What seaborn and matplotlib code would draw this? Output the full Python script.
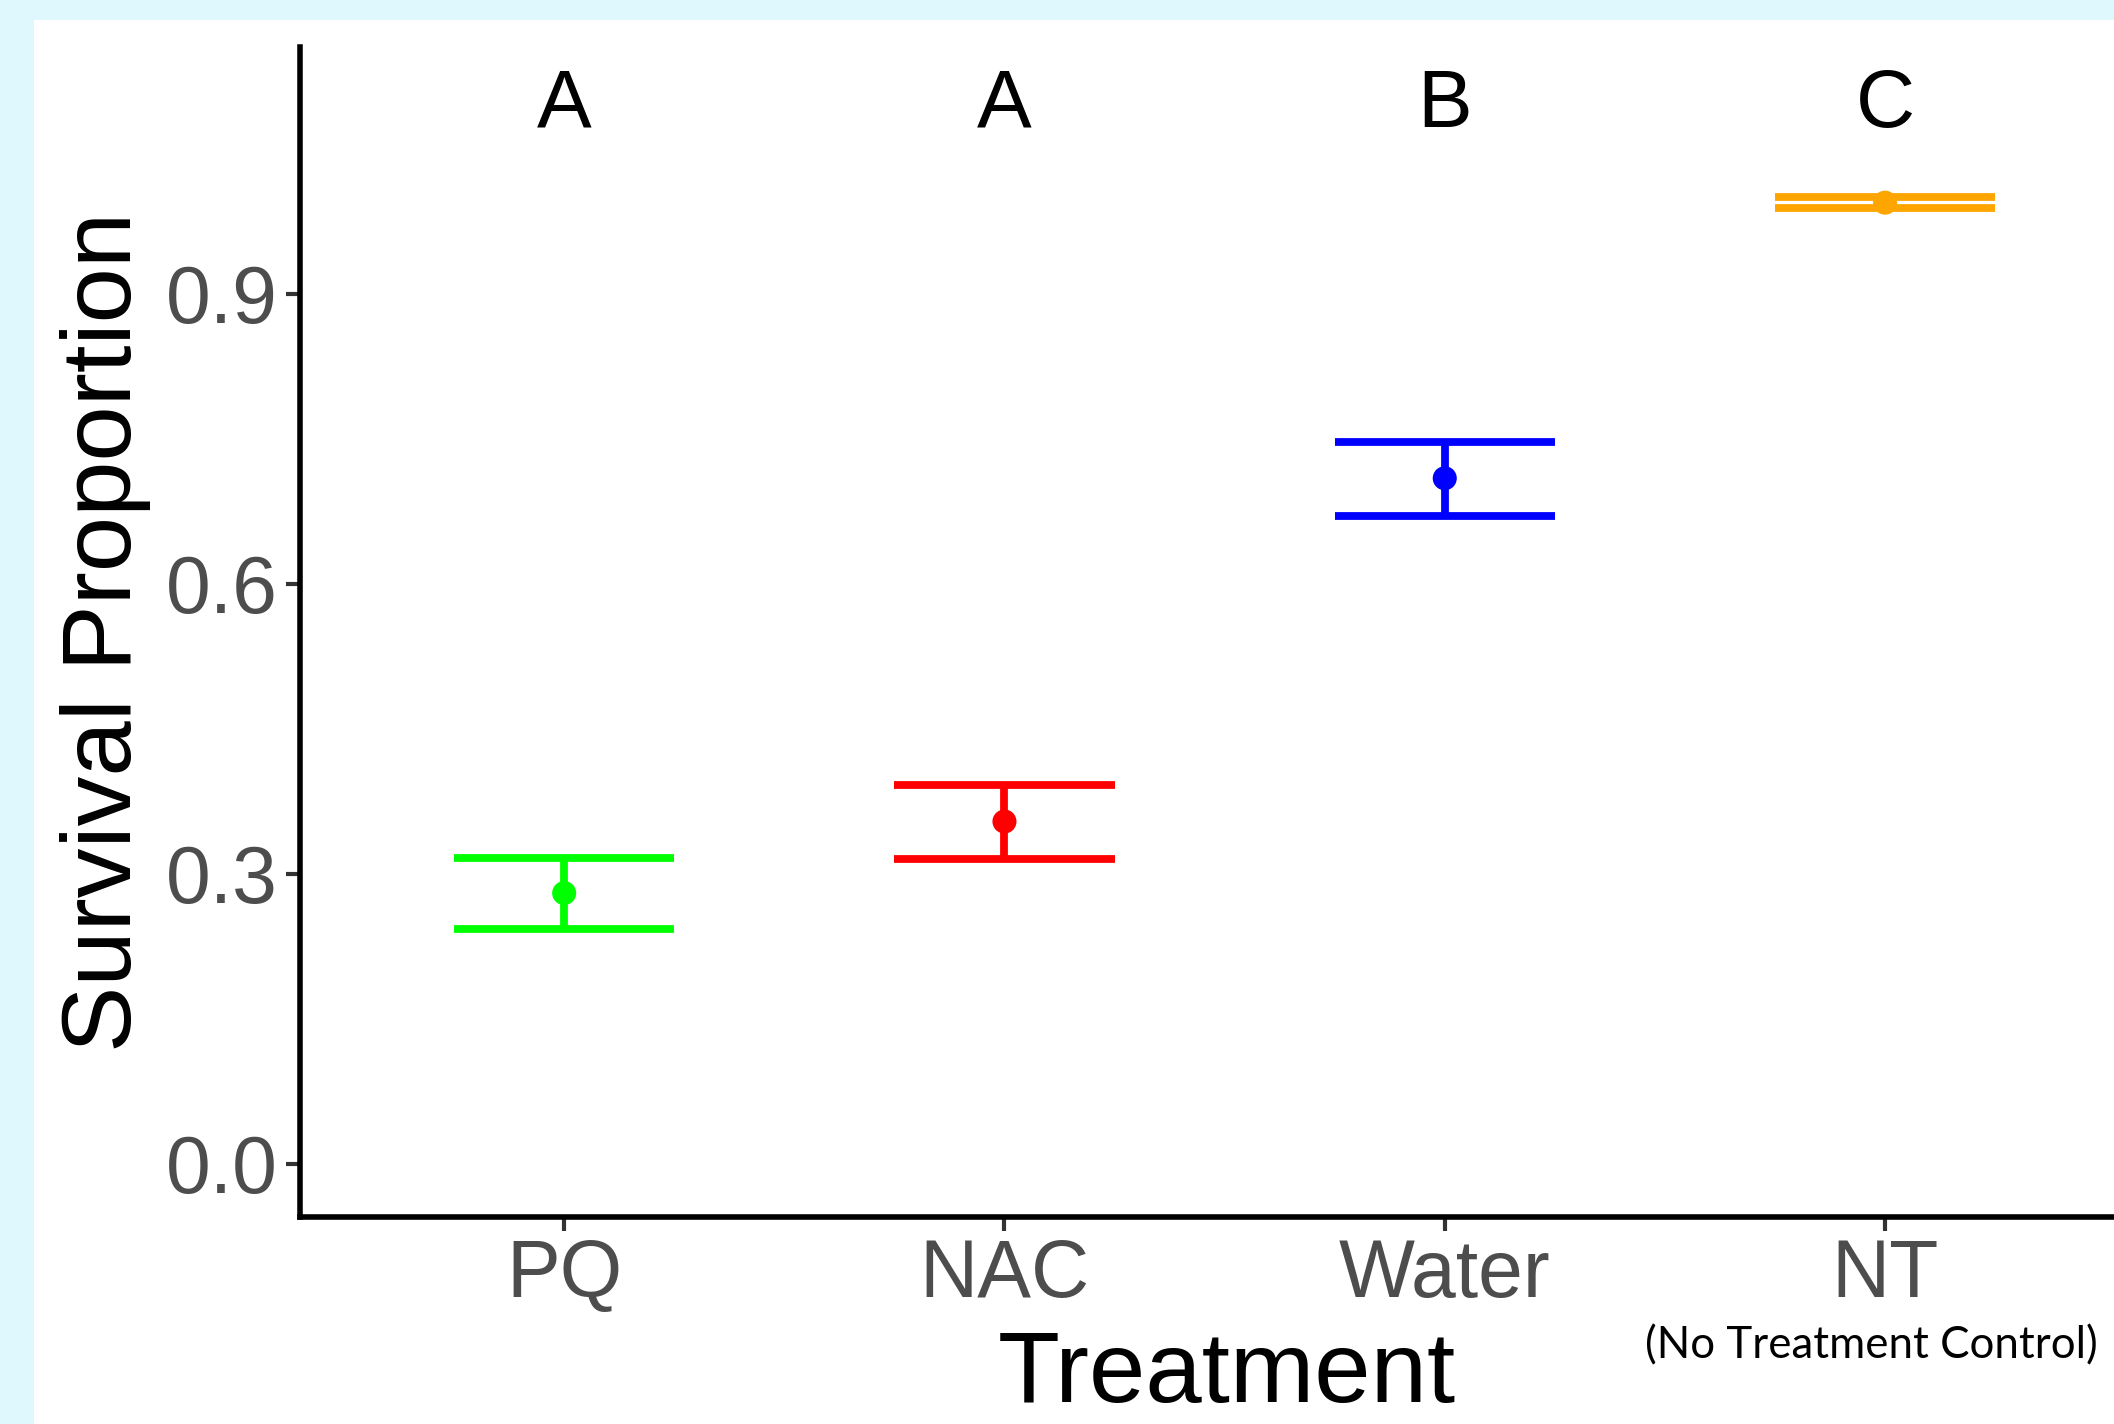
import numpy as np
import pandas as pd
import matplotlib
matplotlib.use('Agg')
import matplotlib.pyplot as plt
import seaborn as sns

# values
treatments = ['PQ', 'NAC', 'Water', 'NT']
survival_mean = [0.280, 0.354, 0.709, 0.994]
survival_low = [0.243, 0.315, 0.670, 0.988]
survival_high = [0.316, 0.392, 0.747, 1.000]
group_letters = ['A', 'A', 'B', 'C']
colors = ['#00ff00', '#ff0000', '#0000ff', '#ffa500']
yticks = [0.0, 0.3, 0.6, 0.9]

df = pd.DataFrame({
    'treatment': treatments,
    'mean': survival_mean,
    'low': survival_low,
    'high': survival_high,
})
df['pos'] = np.arange(len(df))

sns.set_style('white')
plt.rcParams['font.family'] = ['Liberation Sans', 'DejaVu Sans']

fig = plt.figure(figsize=(10.57, 7.12), dpi=200)
fig.patch.set_facecolor('#dff8fd')
# white panel inside the light cyan border
fig.patches.append(plt.Rectangle((34 / 2114, 0), 1, 1 - 20 / 1424,
                                 transform=fig.transFigure, facecolor='white',
                                 edgecolor='none', zorder=-10))

ax = fig.add_axes([300 / 2114, 1 - 1217 / 1424, 1 - 300 / 2114, (1217 - 47) / 1424])
ax.set_facecolor('white')
ax.set_zorder(1)

# error bars: vertical line plus two caps of half width 0.25
ax.vlines(df['pos'], df['low'], df['high'], colors=colors, linewidth=2.8, zorder=2)
ax.hlines(df['high'], df['pos'] - 0.25, df['pos'] + 0.25, colors=colors, linewidth=2.8, zorder=2)
ax.hlines(df['low'], df['pos'] - 0.25, df['pos'] + 0.25, colors=colors, linewidth=2.8, zorder=2)

sns.scatterplot(
    data=df,
    x='pos',
    y='mean',
    hue='treatment',
    palette=colors,
    s=75,
    linewidth=0,
    legend=False,
    zorder=3,
    ax=ax,
)

for i, letter in enumerate(group_letters):
    ax.text(i, 1.094, letter, ha='center', va='center', fontsize=29.5, color='black')

ax.set_xlim(-0.6, 3.52)
ax.set_ylim(-0.055, 1.155)
ax.set_xticks(np.arange(len(treatments)))
ax.set_xticklabels(treatments)
ax.set_yticks(yticks)
ax.set_yticklabels([f'{v:.1f}' for v in yticks])
ax.tick_params(axis='both', labelsize=29, labelcolor='#4d4d4d', color='#333333',
               length=5, width=1.5, bottom=True, left=True)
ax.tick_params(axis='x', pad=2.5)
ax.tick_params(axis='y', pad=3)

for side in ['top', 'right']:
    ax.spines[side].set_visible(False)
for side in ['left', 'bottom']:
    ax.spines[side].set_color('black')
    ax.spines[side].set_linewidth(2)

ax.set_xlabel('')
ax.set_ylabel('')
fig.text(106 / 2114, 1 - 632 / 1424, 'Survival Proportion', rotation=90,
         ha='center', va='center', fontsize=35.8, color='black', zorder=2)
fig.text(1227 / 2114, 1 - 1402 / 1424, 'Treatment', ha='center', va='baseline',
         fontsize=36.5, color='black', zorder=2)
fig.text(1871 / 2114, 1 - 1346 / 1424, '(No Treatment Control)', ha='center', va='center',
         fontsize=15.8, color='black', family=['Lato', 'DejaVu Sans'], zorder=2)

fig.savefig('out.png', dpi=200, facecolor=fig.get_facecolor())
